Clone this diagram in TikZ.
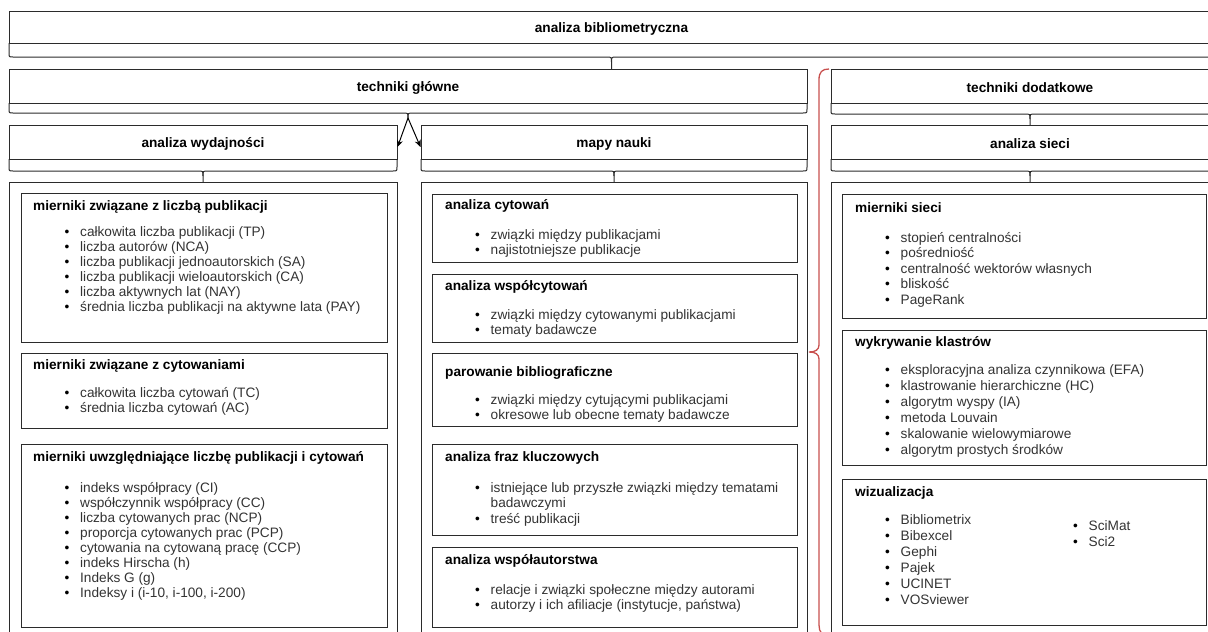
\documentclass[tikz,border=0pt]{standalone}
\usepackage{fontspec}
\setmainfont{Liberation Sans}
\usetikzlibrary{fit,calc,arrows.meta}

\definecolor{linecol}{HTML}{2B2B2B}
\definecolor{itemtext}{HTML}{333333}
\definecolor{bracered}{RGB}{200,80,78}

\tikzset{
  hdrbox/.style={draw=linecol, line width=1pt, inner sep=0pt},
  hdrtext/.style={inner sep=0pt, font=\bfseries},
  brc/.style={draw=linecol, line width=1pt},
  cbox/.style={draw=linecol, line width=1pt, inner sep=0pt},
  ibox/.style={draw=linecol, line width=1pt, inner sep=0pt},
  ttl/.style={anchor=base west, inner sep=0pt, font=\bfseries},
  lst/.style={anchor=base west, inner sep=0pt, text=itemtext,
              font=\fontsize{13.65}{#1}\selectfont},
  arr/.style={draw=black, line width=1pt, -{Stealth[length=7pt,width=6pt]}}
}

% bullet list: bullet column and text column
\newcommand\bul{\makebox[15.5pt][l]{\textcolor{black}{•}}}
\newcommand\bulletrows[1]{\begin{tabular}[t]{@{}l@{}l@{}}#1\end{tabular}}

% header box with a curly brace underneath
% #1 name, #2 x-left, #3 x-right, #4 top, #5 divider, #6 brace line, #7 tip, #8 text
\newcommand\hdrbrace[8]{%
  \node[hdrbox, fit={(#2,#4) (#3,#5)}] (#1) {};
  \node[hdrtext] (#1txt) at ($(#1.center)+(0,1.5)$) {#8};
  \draw[brc] (#2,#5) -- (#2,#6-4) .. controls (#2,#6) .. (#2+4,#6)
    -- ({(#2+#3)/2-5},#6) .. controls ({(#2+#3)/2},#6) .. ({(#2+#3)/2},#6+5)
    -- ({(#2+#3)/2},#7);
  \draw[brc] (#3,#5) -- (#3,#6-4) .. controls (#3,#6) .. (#3-4,#6)
    -- ({(#2+#3)/2+5},#6) .. controls ({(#2+#3)/2},#6) .. ({(#2+#3)/2},#6+5);
  \coordinate (#1tip) at ({(#2+#3)/2},#7);
}

\begin{document}
\fontsize{13.65}{15}\selectfont
\begin{tikzpicture}[x=1pt, y=-1pt]
\useasboundingbox (0,0) rectangle (1208,632);

% ---- header levels ----
\hdrbrace{ab}{9}{1214}{11}{43}{57}{69}{analiza bibliometryczna}
\hdrbrace{tg}{9}{807}{69}{103}{113}{118}{techniki główne}
\hdrbrace{td}{831}{1229}{69}{103}{114}{125}{techniki dodatkowe}
\hdrbrace{wyd}{9}{397}{125}{159}{171}{182}{analiza wydajności}
\hdrbrace{mapy}{421}{807}{125}{159}{171}{182}{mapy nauki}
\hdrbrace{sieci}{831}{1229}{125}{159}{171}{182}{analiza sieci}

% split of the main techniques
\draw[arr] (tgtip) -- ($(wyd.east)+(0,5)$);
\draw[arr] (tgtip) -- ($(mapy.west)+(0,5)$);

% red brace grouping the additional techniques
\draw[draw=bracered, line width=1.3pt]
  (829,69) .. controls (822,69) and (819,72) .. (819,80)
  -- (819,345) .. controls (819,350) and (815,352) .. (809,352)
  .. controls (815,352) and (819,354) .. (819,359)
  -- (819,625) .. controls (819,632) and (822,636) .. (829,636);

% ---- containers ----
\node[cbox, fit={(9,182) (397,650)}] (cwyd) {};
\node[cbox, fit={(421,182) (807,650)}] (cmapy) {};
\node[cbox, fit={(831,182) (1229,650)}] (csieci) {};

% ---- performance analysis ----
\node[ibox, fit={(21,193) (387,342)}] (l1) {};
\node[ttl] (l1t) at (33,210) {mierniki związane z liczbą publikacji};
\node[lst=15] (l1l) at (64.5,236) {\bulletrows{
  \bul & całkowita liczba publikacji (TP)\\
  \bul & liczba autorów (NCA)\\
  \bul & liczba publikacji jednoautorskich (SA)\\
  \bul & liczba publikacji wieloautorskich (CA)\\
  \bul & liczba aktywnych lat (NAY)\\
  \bul & średnia liczba publikacji na aktywne lata (PAY)}};

\node[ibox, fit={(21,353) (387,428)}] (l2) {};
\node[ttl] (l2t) at (33,369) {mierniki związane z cytowaniami};
\node[lst=15] (l2l) at (64.5,397) {\bulletrows{
  \bul & całkowita liczba cytowań (TC)\\
  \bul & średnia liczba cytowań (AC)}};

\node[ibox, fit={(21,444) (387,627)}] (l3) {};
\node[ttl] (l3t) at (33,461) {mierniki uwzględniające liczbę publikacji i cytowań};
\node[lst=15] (l3l) at (64.5,492) {\bulletrows{
  \bul & indeks współpracy (CI)\\
  \bul & współczynnik współpracy (CC)\\
  \bul & liczba cytowanych prac (NCP)\\
  \bul & proporcja cytowanych prac (PCP)\\
  \bul & cytowania na cytowaną pracę (CCP)\\
  \bul & indeks Hirscha (h)\\
  \bul & Indeks G (g)\\
  \bul & Indeksy i (i-10, i-100, i-200)}};

% ---- science mapping ----
\node[ibox, fit={(432,194) (797,262)}] (m1) {};
\node[ttl] (m1t) at (445,209) {analiza cytowań};
\node[lst=15.5] (m1l) at (475,239) {\bulletrows{
  \bul & związki między publikacjami\\
  \bul & najistotniejsze publikacje}};

\node[ibox, fit={(432,274) (797,342)}] (m2) {};
\node[ttl] (m2t) at (445,290) {analiza współcytowań};
\node[lst=15.5] (m2l) at (475,319) {\bulletrows{
  \bul & związki między cytowanymi publikacjami\\
  \bul & tematy badawcze}};

\node[ibox, fit={(432,353) (797,426)}] (m3) {};
\node[ttl] (m3t) at (445,376) {parowanie bibliograficzne};
\node[lst=15.5] (m3l) at (475,404) {\bulletrows{
  \bul & związki między cytującymi publikacjami\\
  \bul & okresowe lub obecne tematy badawcze}};

\node[ibox, fit={(432,444) (797,535)}] (m4) {};
\node[ttl] (m4t) at (445,461) {analiza fraz kluczowych};
\node[lst=15.5] (m4l) at (475,492) {\bulletrows{
  \bul & istniejące lub przyszłe związki między tematami\\
       & badawczymi\\
  \bul & treść publikacji}};

\node[ibox, fit={(432,547) (797,627)}] (m5) {};
\node[ttl] (m5t) at (445,564) {analiza współautorstwa};
\node[lst=15.5] (m5l) at (475,594) {\bulletrows{
  \bul & relacje i związki społeczne między autorami\\
  \bul & autorzy i ich afiliacje (instytucje, państwa)}};

% ---- network analysis ----
\node[ibox, fit={(842,194) (1206,318)}] (s1) {};
\node[ttl] (s1t) at (855,212) {mierniki sieci};
\node[lst=15.6] (s1l) at (885,242) {\bulletrows{
  \bul & stopień centralności\\
  \bul & pośredniość\\
  \bul & centralność wektorów własnych\\
  \bul & bliskość\\
  \bul & PageRank}};

\node[ibox, fit={(842,330) (1206,465)}] (s2) {};
\node[ttl] (s2t) at (855,346) {wykrywanie klastrów};
\node[lst=16] (s2l) at (885,374) {\bulletrows{
  \bul & eksploracyjna analiza czynnikowa (EFA)\\
  \bul & klastrowanie hierarchiczne (HC)\\
  \bul & algorytm wyspy (IA)\\
  \bul & metoda Louvain\\
  \bul & skalowanie wielowymiarowe\\
  \bul & algorytm prostych środków}};

\node[ibox, fit={(842,479) (1206,625)}] (s3) {};
\node[ttl] (s3t) at (855,496) {wizualizacja};
\node[lst=16] (s3l) at (885,524) {\bulletrows{
  \bul & Bibliometrix\\
  \bul & Bibexcel\\
  \bul & Gephi\\
  \bul & Pajek\\
  \bul & UCINET\\
  \bul & VOSviewer}};
\node[lst=16] (s3r) at (1073,530) {\bulletrows{
  \bul & SciMat\\
  \bul & Sci2}};
\end{tikzpicture}
\end{document}
